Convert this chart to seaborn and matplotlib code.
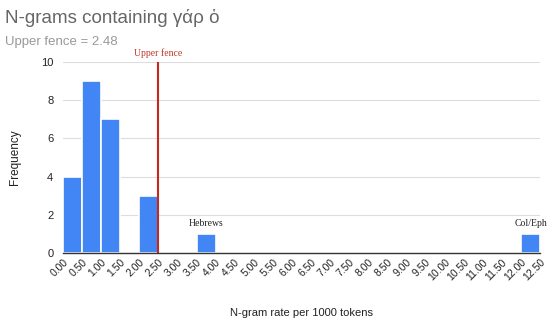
import matplotlib
matplotlib.use("Agg")
import matplotlib.pyplot as plt
import matplotlib.transforms as mtransforms
import seaborn as sns
import numpy as np
import pandas as pd

# histogram data: bin starts (rate per 1000 tokens) and counts
bin_edges = [round(0.5 * i, 2) for i in range(26)]
bin_starts = [0.0, 0.5, 1.0, 1.5, 2.0, 3.5, 12.0]
counts = [4, 9, 7, 0, 3, 1, 1]
upper_fence = 2.5
labels = {"Hebrews": 3.5, "Col/Eph": 12.0}
tick_labels = [f"{v:.2f}" for v in bin_edges]

df = pd.DataFrame({"rate": bin_starts, "n": counts})

sns.set_style("white")
plt.rcParams["font.family"] = ["Liberation Sans", "DejaVu Sans"]

fig = plt.figure(figsize=(5.5, 3.2), dpi=100)
ax = fig.add_axes([0.1145, 0.209, 0.8675, 0.597])

sns.histplot(data=df, x="rate", weights="n", bins=bin_edges, ax=ax,
             color="#4285F4", alpha=1, edgecolor="white", linewidth=1.2)

ax.set_xlim(0, 12.5)
ax.set_ylim(0, 10)
ax.set_yticks([0, 2, 4, 6, 8, 10])
ax.yaxis.grid(True, color="#dddddd", linewidth=0.8)
ax.set_axisbelow(True)
for s in ["top", "right", "left"]:
    ax.spines[s].set_visible(False)
ax.spines["bottom"].set_color("#333333")
ax.spines["bottom"].set_linewidth(1)

ax.set_xticks(bin_edges)
ax.set_xticklabels(tick_labels, rotation=45, ha="right", rotation_mode="anchor", fontsize=7.5, color="#222222")
# nudge rotated labels so their ends sit just right of the tick, like the original
offset = mtransforms.ScaledTranslation(5 / 100, -5 / 100, fig.dpi_scale_trans)
for lbl in ax.get_xticklabels():
    lbl.set_transform(lbl.get_transform() + offset)
ax.tick_params(axis="y", labelsize=8, colors="#222222", length=0, pad=7)
ax.tick_params(axis="x", length=0, pad=3)

ax.set_xlabel("N-gram rate per 1000 tokens", fontsize=8, color="#222222", labelpad=18)
ax.set_ylabel("Frequency", fontsize=8.5, color="#222222", labelpad=14)

# upper fence line
ax.axvline(upper_fence, color="#c5281c", linewidth=1.5)
ax.text(upper_fence, 10.2, "Upper fence", color="#c0392b", fontsize=7,
        family=["Liberation Serif"], ha="center", va="bottom")

for name, x in labels.items():
    ax.text(x + 0.25, 1.3, name, fontsize=7, family=["Liberation Serif"],
            ha="center", va="bottom", color="#222222")

fig.text(0.009, 0.945, "N-grams containing γάρ ὁ", fontsize=13.5, color="#666666", va="center")
fig.text(0.009, 0.87, "Upper fence = 2.48", fontsize=9.5, color="#999999", va="center")

fig.savefig("out.png", dpi=100)
